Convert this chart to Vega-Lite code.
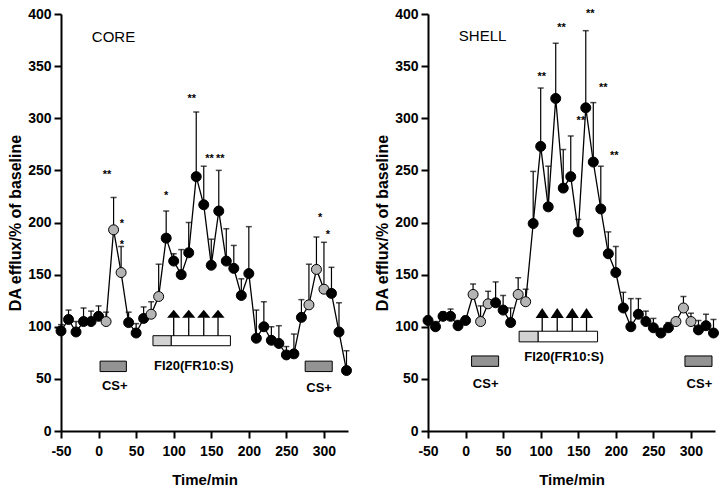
{
  "$schema": "https://vega.github.io/schema/vega-lite/v6.json",
  "padding": {"left": 7, "top": 7, "right": 5, "bottom": 5},
  "spacing": 20,
  "background": "white",
  "config": {
    "view": {"stroke": null},
    "font": "Liberation Sans",
    "axis": {
      "grid": false,
      "domainColor": "black",
      "domainWidth": 2,
      "tickColor": "black",
      "tickWidth": 2,
      "tickSize": 7,
      "labelFont": "Liberation Sans",
      "labelFontWeight": "bold",
      "labelFontSize": 14,
      "labelColor": "black",
      "labelExpr": "datum.value + ''",
      "titleFont": "Liberation Sans",
      "titleFontWeight": "bold",
      "titleColor": "black"
    }
  },
  "datasets": {
    "series": [
      {"p":"core","t":-50,"v":96,"e":102,"g":"b"},
      {"p":"core","t":-40,"v":107,"e":116,"g":"b"},
      {"p":"core","t":-30,"v":95,"e":105,"g":"b"},
      {"p":"core","t":-20,"v":105,"e":118,"g":"b"},
      {"p":"core","t":-10,"v":105,"e":115,"g":"b"},
      {"p":"core","t":0,"v":110,"e":120,"g":"b"},
      {"p":"core","t":10,"v":105,"e":114,"g":"g"},
      {"p":"core","t":20,"v":193,"e":224,"g":"g"},
      {"p":"core","t":30,"v":152,"e":177,"g":"g"},
      {"p":"core","t":40,"v":104,"e":114,"g":"b"},
      {"p":"core","t":50,"v":94,"e":103,"g":"b"},
      {"p":"core","t":60,"v":108,"e":119,"g":"b"},
      {"p":"core","t":70,"v":112,"e":124,"g":"g"},
      {"p":"core","t":80,"v":129,"e":160,"g":"g"},
      {"p":"core","t":90,"v":185,"e":211,"g":"b"},
      {"p":"core","t":100,"v":163,"e":170,"g":"b"},
      {"p":"core","t":110,"v":150,"e":174,"g":"b"},
      {"p":"core","t":120,"v":171,"e":200,"g":"b"},
      {"p":"core","t":130,"v":244,"e":306,"g":"b"},
      {"p":"core","t":140,"v":217,"e":254,"g":"b"},
      {"p":"core","t":150,"v":159,"e":184,"g":"b"},
      {"p":"core","t":160,"v":211,"e":250,"g":"b"},
      {"p":"core","t":170,"v":163,"e":194,"g":"b"},
      {"p":"core","t":180,"v":156,"e":178,"g":"b"},
      {"p":"core","t":190,"v":130,"e":146,"g":"b"},
      {"p":"core","t":200,"v":151,"e":196,"g":"b"},
      {"p":"core","t":210,"v":89,"e":116,"g":"b"},
      {"p":"core","t":220,"v":100,"e":124,"g":"b"},
      {"p":"core","t":230,"v":87,"e":100,"g":"b"},
      {"p":"core","t":240,"v":84,"e":101,"g":"b"},
      {"p":"core","t":250,"v":73,"e":81,"g":"b"},
      {"p":"core","t":260,"v":74,"e":93,"g":"b"},
      {"p":"core","t":270,"v":109,"e":126,"g":"b"},
      {"p":"core","t":280,"v":121,"e":160,"g":"g"},
      {"p":"core","t":290,"v":155,"e":186,"g":"g"},
      {"p":"core","t":300,"v":136,"e":181,"g":"g"},
      {"p":"core","t":310,"v":132,"e":157,"g":"b"},
      {"p":"core","t":320,"v":95,"e":123,"g":"b"},
      {"p":"core","t":330,"v":58,"e":77,"g":"b"},
      {"p":"shell","t":-50,"v":106,"e":110,"g":"b"},
      {"p":"shell","t":-40,"v":100,"e":105,"g":"b"},
      {"p":"shell","t":-30,"v":110,"e":114,"g":"b"},
      {"p":"shell","t":-20,"v":110,"e":117,"g":"b"},
      {"p":"shell","t":-10,"v":101,"e":106,"g":"b"},
      {"p":"shell","t":0,"v":106,"e":110,"g":"b"},
      {"p":"shell","t":10,"v":131,"e":141,"g":"g"},
      {"p":"shell","t":20,"v":105,"e":120,"g":"g"},
      {"p":"shell","t":30,"v":122,"e":134,"g":"g"},
      {"p":"shell","t":40,"v":123,"e":143,"g":"b"},
      {"p":"shell","t":50,"v":116,"e":130,"g":"b"},
      {"p":"shell","t":60,"v":104,"e":118,"g":"b"},
      {"p":"shell","t":70,"v":131,"e":147,"g":"g"},
      {"p":"shell","t":80,"v":124,"e":136,"g":"g"},
      {"p":"shell","t":90,"v":199,"e":249,"g":"b"},
      {"p":"shell","t":100,"v":273,"e":329,"g":"b"},
      {"p":"shell","t":110,"v":215,"e":254,"g":"b"},
      {"p":"shell","t":120,"v":319,"e":372,"g":"b"},
      {"p":"shell","t":130,"v":233,"e":270,"g":"b"},
      {"p":"shell","t":140,"v":244,"e":283,"g":"b"},
      {"p":"shell","t":150,"v":191,"e":203,"g":"b"},
      {"p":"shell","t":160,"v":310,"e":384,"g":"b"},
      {"p":"shell","t":170,"v":258,"e":315,"g":"b"},
      {"p":"shell","t":180,"v":213,"e":254,"g":"b"},
      {"p":"shell","t":190,"v":170,"e":191,"g":"b"},
      {"p":"shell","t":200,"v":152,"e":177,"g":"b"},
      {"p":"shell","t":210,"v":118,"e":133,"g":"b"},
      {"p":"shell","t":220,"v":100,"e":127,"g":"b"},
      {"p":"shell","t":230,"v":112,"e":127,"g":"b"},
      {"p":"shell","t":240,"v":105,"e":115,"g":"b"},
      {"p":"shell","t":250,"v":99,"e":108,"g":"b"},
      {"p":"shell","t":260,"v":94,"e":97,"g":"b"},
      {"p":"shell","t":270,"v":99,"e":104,"g":"b"},
      {"p":"shell","t":280,"v":105,"e":106,"g":"g"},
      {"p":"shell","t":290,"v":118,"e":129,"g":"g"},
      {"p":"shell","t":300,"v":105,"e":113,"g":"g"},
      {"p":"shell","t":310,"v":97,"e":106,"g":"b"},
      {"p":"shell","t":320,"v":101,"e":112,"g":"b"},
      {"p":"shell","t":330,"v":94,"e":107,"g":"b"}
    ],
    "rects": [
      {"p":"core","t1":2,"t2":37,"v1":57,"v2":67,"k":"cs"},
      {"p":"core","t1":275,"t2":311,"v1":57,"v2":67,"k":"cs"},
      {"p":"core","t1":72.4,"t2":96.8,"v1":81.8,"v2":91.4,"k":"stip"},
      {"p":"core","t1":96.8,"t2":175.5,"v1":81.8,"v2":91.4,"k":"white"},
      {"p":"shell","t1":8,"t2":44,"v1":62,"v2":72,"k":"cs"},
      {"p":"shell","t1":292,"t2":328,"v1":62,"v2":72,"k":"cs"},
      {"p":"shell","t1":71.3,"t2":96.7,"v1":85.5,"v2":95.7,"k":"stip"},
      {"p":"shell","t1":96.7,"t2":175.7,"v1":85.5,"v2":95.7,"k":"white"}
    ],
    "arrows": [
      {"p":"core","t":100,"v1":91.4,"v2":109,"vt":112.5},
      {"p":"core","t":120,"v1":91.4,"v2":109,"vt":112.5},
      {"p":"core","t":140,"v1":91.4,"v2":109,"vt":112.5},
      {"p":"core","t":159,"v1":91.4,"v2":109,"vt":112.5},
      {"p":"shell","t":102,"v1":95.7,"v2":109,"vt":113.2},
      {"p":"shell","t":122,"v1":95.7,"v2":109,"vt":113.2},
      {"p":"shell","t":142,"v1":95.7,"v2":109,"vt":113.2},
      {"p":"shell","t":161,"v1":95.7,"v2":109,"vt":113.2}
    ],
    "titles": [
      {"p":"core","t":-9,"v":378,"s":"CORE"},
      {"p":"shell","t":-9,"v":379,"s":"SHELL"}
    ],
    "labels": [
      {"p":"core","t":21.6,"v":43.4,"s":"CS+"},
      {"p":"core","t":293.5,"v":41,"s":"CS+"},
      {"p":"core","t":126.7,"v":62.6,"s":"FI20(FR10:S)"},
      {"p":"shell","t":26.8,"v":44.7,"s":"CS+"},
      {"p":"shell","t":311.3,"v":44.7,"s":"CS+"},
      {"p":"shell","t":131,"v":71,"s":"FI20(FR10:S)"}
    ],
    "stars": [
      {"p":"core","t":11.3,"v":246,"s":"**"},
      {"p":"core","t":31,"v":198.7,"s":"*"},
      {"p":"core","t":31,"v":178,"s":"*"},
      {"p":"core","t":90,"v":225,"s":"*"},
      {"p":"core","t":124,"v":318,"s":"**"},
      {"p":"core","t":147.6,"v":261,"s":"**"},
      {"p":"core","t":162,"v":261,"s":"**"},
      {"p":"core","t":295,"v":204,"s":"*"},
      {"p":"core","t":305.4,"v":188,"s":"*"},
      {"p":"shell","t":101.5,"v":339.6,"s":"**"},
      {"p":"shell","t":127.7,"v":387,"s":"**"},
      {"p":"shell","t":166,"v":400,"s":"**"},
      {"p":"shell","t":183.3,"v":329,"s":"**"},
      {"p":"shell","t":153.5,"v":297,"s":"**"},
      {"p":"shell","t":198,"v":264,"s":"**"}
    ]
  },
  "hconcat": [
    {
      "width": 287,
      "height": 417,
      "layer": [
        {
          "data": {"name": "rects"},
          "transform": [{"filter": "datum.p == 'core'"}],
          "mark": {"type": "rect", "stroke": "black", "strokeWidth": 1},
          "encoding": {
            "x": {"field": "t1", "type": "quantitative", "title": "Time/min",
                  "scale": {"domain": [-50, 332], "nice": false, "zero": false},
                  "axis": {"values": [-50,0,50,100,150,200,250,300], "labelFlush": false, "labelOverlap": false, "labelPadding": 6, "titlePadding": 14, "titleFontSize": 15}},
            "x2": {"field": "t2"},
            "y": {"field": "v1", "type": "quantitative", "title": "DA efflux/% of baseline",
                  "scale": {"domain": [0, 400], "nice": false, "zero": false},
                  "axis": {"values": [0,50,100,150,200,250,300,350,400], "labelFlush": false, "labelOverlap": false, "labelPadding": 3, "titlePadding": 4, "titleFontSize": 16}},
            "y2": {"field": "v2"},
            "fill": {"field": "k", "type": "nominal", "legend": null,
                     "scale": {"domain": ["b","g","cs","stip","white"], "range": ["black","#b4b4b4","#939393","#d2d2d2","white"]}}
          }
        },
        {
          "data": {"name": "arrows"},
          "transform": [{"filter": "datum.p == 'core'"}],
          "mark": {"type": "rule", "color": "black", "strokeWidth": 1.3},
          "encoding": {
            "x": {"field": "t", "type": "quantitative", "title": "Time/min"},
            "y": {"field": "v1", "type": "quantitative", "title": "DA efflux/% of baseline"},
            "y2": {"field": "v2"}
          }
        },
        {
          "data": {"name": "arrows"},
          "transform": [{"filter": "datum.p == 'core'"}],
          "mark": {"type": "point", "shape": "M-1,0.6L1,0.6L0,-0.6Z", "filled": true, "color": "black", "size": 175, "opacity": 1},
          "encoding": {
            "x": {"field": "t", "type": "quantitative", "title": "Time/min"},
            "y": {"field": "vt", "type": "quantitative", "title": "DA efflux/% of baseline"}
          }
        },
        {
          "data": {"name": "series"},
          "transform": [{"filter": "datum.p == 'core'"}],
          "mark": {"type": "rule", "color": "black", "strokeWidth": 1.2},
          "encoding": {
            "x": {"field": "t", "type": "quantitative", "title": "Time/min"},
            "y": {"field": "v", "type": "quantitative", "title": "DA efflux/% of baseline"},
            "y2": {"field": "e"}
          }
        },
        {
          "data": {"name": "series"},
          "transform": [{"filter": "datum.p == 'core'"}],
          "mark": {"type": "tick", "orient": "horizontal", "color": "black", "size": 6, "thickness": 1.5},
          "encoding": {
            "x": {"field": "t", "type": "quantitative", "title": "Time/min"},
            "y": {"field": "e", "type": "quantitative", "title": "DA efflux/% of baseline"}
          }
        },
        {
          "data": {"name": "series"},
          "transform": [{"filter": "datum.p == 'core'"}],
          "mark": {"type": "line", "color": "black", "strokeWidth": 1.3},
          "encoding": {
            "x": {"field": "t", "type": "quantitative", "title": "Time/min"},
            "y": {"field": "v", "type": "quantitative", "title": "DA efflux/% of baseline"}
          }
        },
        {
          "data": {"name": "series"},
          "transform": [{"filter": "datum.p == 'core'"}],
          "mark": {"type": "point", "shape": "circle", "filled": true, "size": 100, "stroke": "black", "strokeWidth": 1, "opacity": 1},
          "encoding": {
            "x": {"field": "t", "type": "quantitative", "title": "Time/min"},
            "y": {"field": "v", "type": "quantitative", "title": "DA efflux/% of baseline"},
            "fill": {"field": "g", "type": "nominal", "legend": null,
                     "scale": {"domain": ["b","g","cs","stip","white"], "range": ["black","#b4b4b4","#939393","#d2d2d2","white"]}}
          }
        },
        {
          "data": {"name": "titles"},
          "transform": [{"filter": "datum.p == 'core'"}],
          "mark": {"type": "text", "align": "left", "baseline": "middle", "fontSize": 15, "color": "black", "font": "Liberation Sans"},
          "encoding": {
            "x": {"field": "t", "type": "quantitative", "title": "Time/min"},
            "y": {"field": "v", "type": "quantitative", "title": "DA efflux/% of baseline"},
            "text": {"field": "s"}
          }
        },
        {
          "data": {"name": "labels"},
          "transform": [{"filter": "datum.p == 'core'"}],
          "mark": {"type": "text", "align": "center", "baseline": "middle", "fontSize": 13, "fontWeight": "bold", "color": "black", "font": "Liberation Sans"},
          "encoding": {
            "x": {"field": "t", "type": "quantitative", "title": "Time/min"},
            "y": {"field": "v", "type": "quantitative", "title": "DA efflux/% of baseline"},
            "text": {"field": "s"}
          }
        },
        {
          "data": {"name": "stars"},
          "transform": [{"filter": "datum.p == 'core'"}],
          "mark": {"type": "text", "align": "center", "baseline": "middle", "fontSize": 11, "fontWeight": "bold", "color": "black", "font": "Liberation Sans"},
          "encoding": {
            "x": {"field": "t", "type": "quantitative", "title": "Time/min"},
            "y": {"field": "v", "type": "quantitative", "title": "DA efflux/% of baseline"},
            "text": {"field": "s"}
          }
        }
      ]
    },
    {
      "width": 287,
      "height": 417,
      "layer": [
        {
          "data": {"name": "rects"},
          "transform": [{"filter": "datum.p == 'shell'"}],
          "mark": {"type": "rect", "stroke": "black", "strokeWidth": 1},
          "encoding": {
            "x": {"field": "t1", "type": "quantitative", "title": "Time/min",
                  "scale": {"domain": [-50, 332], "nice": false, "zero": false},
                  "axis": {"values": [-50,0,50,100,150,200,250,300], "labelFlush": false, "labelOverlap": false, "labelPadding": 6, "titlePadding": 14, "titleFontSize": 15}},
            "x2": {"field": "t2"},
            "y": {"field": "v1", "type": "quantitative", "title": "DA efflux/% of baseline",
                  "scale": {"domain": [0, 400], "nice": false, "zero": false},
                  "axis": {"values": [0,50,100,150,200,250,300,350,400], "labelFlush": false, "labelOverlap": false, "labelPadding": 3, "titlePadding": 4, "titleFontSize": 16}},
            "y2": {"field": "v2"},
            "fill": {"field": "k", "type": "nominal", "legend": null,
                     "scale": {"domain": ["b","g","cs","stip","white"], "range": ["black","#b4b4b4","#939393","#d2d2d2","white"]}}
          }
        },
        {
          "data": {"name": "arrows"},
          "transform": [{"filter": "datum.p == 'shell'"}],
          "mark": {"type": "rule", "color": "black", "strokeWidth": 1.3},
          "encoding": {
            "x": {"field": "t", "type": "quantitative", "title": "Time/min"},
            "y": {"field": "v1", "type": "quantitative", "title": "DA efflux/% of baseline"},
            "y2": {"field": "v2"}
          }
        },
        {
          "data": {"name": "arrows"},
          "transform": [{"filter": "datum.p == 'shell'"}],
          "mark": {"type": "point", "shape": "M-1,0.75L1,0.75L0,-0.75Z", "filled": true, "color": "black", "size": 175, "opacity": 1},
          "encoding": {
            "x": {"field": "t", "type": "quantitative", "title": "Time/min"},
            "y": {"field": "vt", "type": "quantitative", "title": "DA efflux/% of baseline"}
          }
        },
        {
          "data": {"name": "series"},
          "transform": [{"filter": "datum.p == 'shell'"}],
          "mark": {"type": "rule", "color": "black", "strokeWidth": 1.2},
          "encoding": {
            "x": {"field": "t", "type": "quantitative", "title": "Time/min"},
            "y": {"field": "v", "type": "quantitative", "title": "DA efflux/% of baseline"},
            "y2": {"field": "e"}
          }
        },
        {
          "data": {"name": "series"},
          "transform": [{"filter": "datum.p == 'shell'"}],
          "mark": {"type": "tick", "orient": "horizontal", "color": "black", "size": 6, "thickness": 1.5},
          "encoding": {
            "x": {"field": "t", "type": "quantitative", "title": "Time/min"},
            "y": {"field": "e", "type": "quantitative", "title": "DA efflux/% of baseline"}
          }
        },
        {
          "data": {"name": "series"},
          "transform": [{"filter": "datum.p == 'shell'"}],
          "mark": {"type": "line", "color": "black", "strokeWidth": 1.3},
          "encoding": {
            "x": {"field": "t", "type": "quantitative", "title": "Time/min"},
            "y": {"field": "v", "type": "quantitative", "title": "DA efflux/% of baseline"}
          }
        },
        {
          "data": {"name": "series"},
          "transform": [{"filter": "datum.p == 'shell'"}],
          "mark": {"type": "point", "shape": "circle", "filled": true, "size": 100, "stroke": "black", "strokeWidth": 1, "opacity": 1},
          "encoding": {
            "x": {"field": "t", "type": "quantitative", "title": "Time/min"},
            "y": {"field": "v", "type": "quantitative", "title": "DA efflux/% of baseline"},
            "fill": {"field": "g", "type": "nominal", "legend": null,
                     "scale": {"domain": ["b","g","cs","stip","white"], "range": ["black","#b4b4b4","#939393","#d2d2d2","white"]}}
          }
        },
        {
          "data": {"name": "titles"},
          "transform": [{"filter": "datum.p == 'shell'"}],
          "mark": {"type": "text", "align": "left", "baseline": "middle", "fontSize": 15, "color": "black", "font": "Liberation Sans"},
          "encoding": {
            "x": {"field": "t", "type": "quantitative", "title": "Time/min"},
            "y": {"field": "v", "type": "quantitative", "title": "DA efflux/% of baseline"},
            "text": {"field": "s"}
          }
        },
        {
          "data": {"name": "labels"},
          "transform": [{"filter": "datum.p == 'shell'"}],
          "mark": {"type": "text", "align": "center", "baseline": "middle", "fontSize": 13, "fontWeight": "bold", "color": "black", "font": "Liberation Sans"},
          "encoding": {
            "x": {"field": "t", "type": "quantitative", "title": "Time/min"},
            "y": {"field": "v", "type": "quantitative", "title": "DA efflux/% of baseline"},
            "text": {"field": "s"}
          }
        },
        {
          "data": {"name": "stars"},
          "transform": [{"filter": "datum.p == 'shell'"}],
          "mark": {"type": "text", "align": "center", "baseline": "middle", "fontSize": 11, "fontWeight": "bold", "color": "black", "font": "Liberation Sans"},
          "encoding": {
            "x": {"field": "t", "type": "quantitative", "title": "Time/min"},
            "y": {"field": "v", "type": "quantitative", "title": "DA efflux/% of baseline"},
            "text": {"field": "s"}
          }
        }
      ]
    }
  ]
}
